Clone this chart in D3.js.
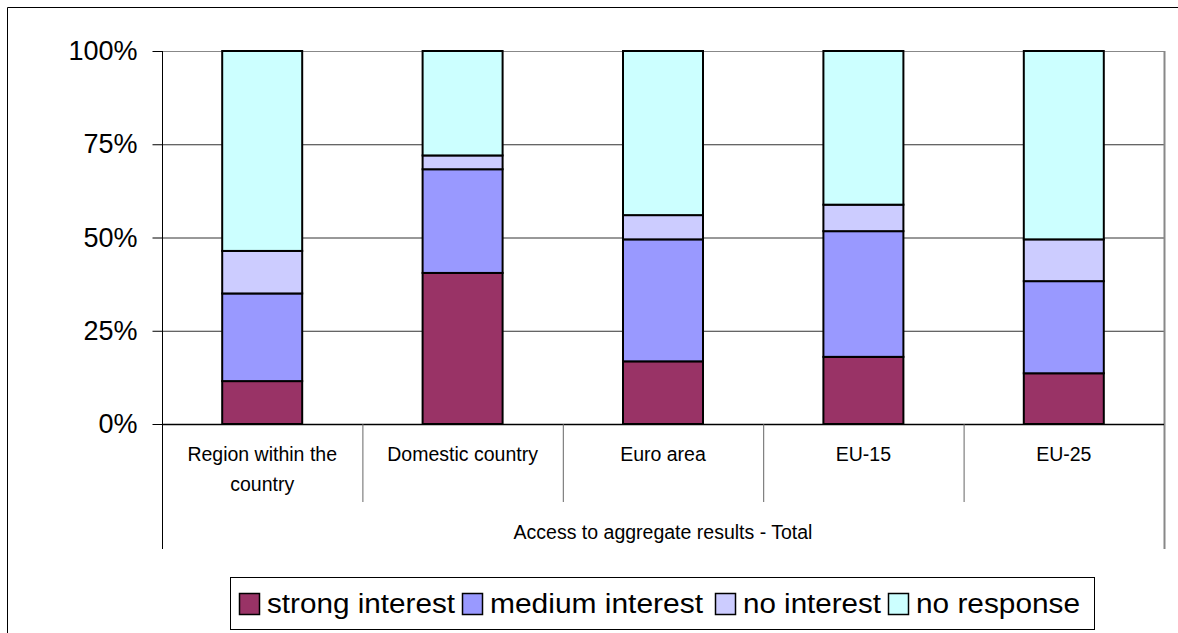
<!DOCTYPE html>
<html>
<head>
<meta charset="utf-8">
<script src="https://cdn.jsdelivr.net/npm/d3@7"></script>
<style>
  body { margin: 0; background: #fff; }
  svg { display: block; font-family: "Liberation Sans", Arial, sans-serif; }
</style>
</head>
<body>
<svg width="1178" height="633"></svg>
<script>
var categories = [["Region within the", "country"], ["Domestic country"], ["Euro area"], ["EU-15"], ["EU-25"]];
var seriesNames = ["strong interest", "medium interest", "no interest", "no response"];
var seriesColors = ["#993366", "#9999FF", "#CCCCFF", "#CCFFFF"];
var strongInterest = [11.5, 40.5, 16.8, 18.0, 13.6];
var mediumInterest = [23.5, 27.8, 32.7, 33.7, 24.7];
var noInterest = [11.4, 3.7, 6.5, 7.1, 11.2];
var noResponse = [53.6, 28.0, 44.0, 41.2, 50.5];
var yTicks = [0, 25, 50, 75, 100];
var axisTitle = "Access to aggregate results - Total";

var svg = d3.select("svg");
var plotL = 162, plotR = 1164, plotT = 51, plotB = 424;

// outer chart border (right side runs off the picture)
svg.append("path")
    .attr("d", "M7.5,633 V7.5 H1178")
    .attr("fill", "none").attr("stroke", "#000").attr("stroke-width", 1);

var rows = categories.map(function (c, i) {
    return { idx: i, s0: strongInterest[i], s1: mediumInterest[i], s2: noInterest[i], s3: noResponse[i] };
});
var stack = d3.stack().keys(["s0", "s1", "s2", "s3"]);
var layers = stack(rows);

var x = d3.scaleBand().domain(d3.range(categories.length)).range([plotL, plotR]).paddingInner(0).paddingOuter(0);
var y = d3.scaleLinear().domain([0, 100]).range([plotB, plotT]);
var barW = 80;

// gridlines
svg.append("g").selectAll("line").data(yTicks.slice(1)).enter().append("line")
    .attr("x1", plotL).attr("x2", plotR)
    .attr("y1", function (d) { return y(d) + 0.5; }).attr("y2", function (d) { return y(d) + 0.5; })
    .attr("stroke", function (d) { return d == 100 ? "#888" : "#333"; }).attr("stroke-width", 1);

// right border of plot area, extends through the category area
svg.append("line").attr("x1", plotR + 0.5).attr("x2", plotR + 0.5).attr("y1", plotT).attr("y2", 549)
    .attr("stroke", "#888").attr("stroke-width", 2);

// bars
svg.append("g").selectAll("g").data(layers).enter().append("g")
    .attr("fill", function (d, i) { return seriesColors[i]; })
    .selectAll("rect").data(function (d) { return d; }).enter().append("rect")
    .attr("x", function (d) { return x(d.data.idx) + (x.bandwidth() - barW) / 2; })
    .attr("width", barW)
    .attr("y", function (d) { return y(d[1]); })
    .attr("height", function (d) { return y(d[0]) - y(d[1]); })
    .attr("stroke", "#000").attr("stroke-width", 2);

// y axis
var yAxis = d3.axisLeft(y).tickValues(yTicks).tickSize(10).tickPadding(15)
    .tickFormat(function (d) { return d + "%"; });
var ya = svg.append("g").attr("transform", "translate(" + (plotL + 0.5) + ",0)").call(yAxis);
ya.select(".domain").remove();
ya.selectAll(".tick line").attr("stroke", "#000");
ya.selectAll("text").attr("font-size", 27).attr("fill", "#000").attr("font-family", "Liberation Sans, Arial, sans-serif");
svg.append("line").attr("x1", plotL + 0.5).attr("x2", plotL + 0.5).attr("y1", plotT).attr("y2", 549)
    .attr("stroke", "#000").attr("stroke-width", 1);

// x axis line
svg.append("line").attr("x1", plotL).attr("x2", plotR).attr("y1", plotB + 0.5).attr("y2", plotB + 0.5)
    .attr("stroke", "#000").attr("stroke-width", 1.5);

// category separators
svg.append("g").selectAll("line").data(d3.range(1, categories.length)).enter().append("line")
    .attr("x1", function (d) { return x(d) + 0.5; }).attr("x2", function (d) { return x(d) + 0.5; })
    .attr("y1", plotB).attr("y2", 502)
    .attr("stroke", "#666").attr("stroke-width", 1);

// category labels
var cl = svg.append("g").selectAll("text").data(categories).enter().append("text")
    .attr("text-anchor", "middle").attr("font-size", 19.5).attr("fill", "#000");
cl.selectAll("tspan").data(function (d, i) { return d.map(function (t) { return { t: t, i: i }; }); })
    .enter().append("tspan")
    .attr("x", function (d) { return x(d.i) + x.bandwidth() / 2; })
    .attr("y", function (d, j) { return 461 + j * 30; })
    .text(function (d) { return d.t; });

svg.append("text").attr("x", (plotL + plotR) / 2).attr("y", 539)
    .attr("text-anchor", "middle").attr("font-size", 19.5).attr("fill", "#000")
    .text(axisTitle);

// legend
var legend = svg.append("g");
legend.append("rect").attr("x", 230.5).attr("y", 577.5).attr("width", 864).attr("height", 52)
    .attr("fill", "#fff").attr("stroke", "#000").attr("stroke-width", 1);
var legX = [239, 462, 715, 888];
var legW = [188, 213, 138, 164];
var li = legend.selectAll("g.item").data(seriesNames).enter().append("g").attr("class", "item")
    .attr("transform", function (d, i) { return "translate(" + legX[i] + ",0)"; });
li.append("rect").attr("x", 0.5).attr("y", 593.5).attr("width", 20).attr("height", 21)
    .attr("fill", function (d, i) { return seriesColors[i]; })
    .attr("stroke", "#000").attr("stroke-width", 1.5);
li.append("text").attr("x", 28).attr("y", 613).attr("font-size", 27).attr("fill", "#000")
    .attr("textLength", function (d, i) { return legW[i]; }).attr("lengthAdjust", "spacingAndGlyphs")
    .text(function (d) { return d; });
</script>
</body>
</html>
